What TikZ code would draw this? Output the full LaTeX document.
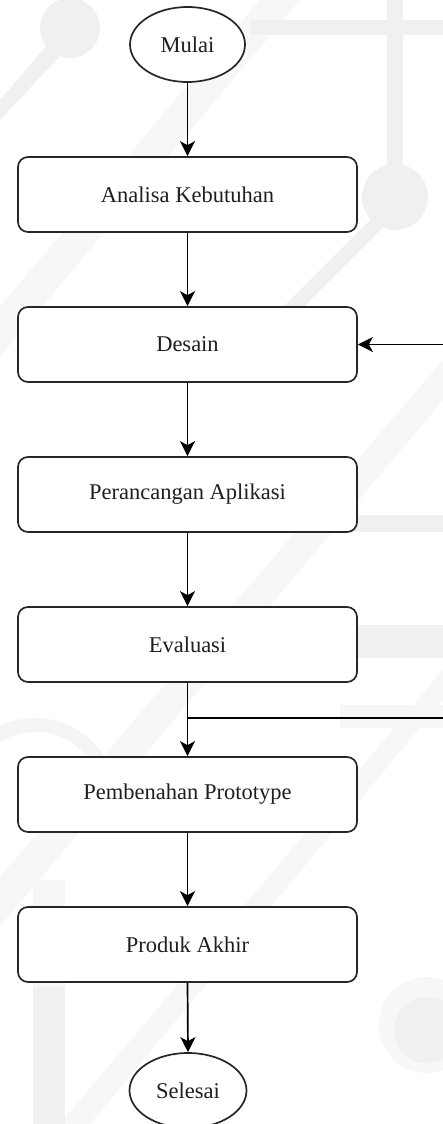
\documentclass[tikz,border=0pt]{standalone}
\usepackage{fontspec}
\setmainfont{Liberation Serif}
\usetikzlibrary{shapes.geometric,arrows.meta}
\begin{document}
\begin{tikzpicture}[x=1pt,y=-1pt,
  wm/.style={fill=black!6,draw=none},
  wmlight/.style={fill=black!3,draw=none},
  procbox/.style={draw=black!85,line width=1.7pt,fill=white,rounded corners=10pt,
    minimum width=339pt,minimum height=75pt,inner sep=0pt,
    font=\fontsize{22.5}{26}\selectfont,text=black!88},
  term/.style={draw=black!85,line width=1.7pt,fill=white,ellipse,
    minimum width=115pt,minimum height=75pt,inner sep=0pt,
    font=\fontsize{22.5}{26}\selectfont,text=black!88},
  flow/.style={draw=black,line width=1.7pt,-{Stealth[length=15pt,width=15pt,inset=4pt]}},
  plain/.style={draw=black,line width=1.7pt}]
\clip (0,0) rectangle (443,1124);
\fill[white] (0,0) rectangle (443,1124);
% faint watermark background
\fill[wmlight] (-20,330) -- (260,0) -- (300,0) -- (-20,380) -- cycle;
\fill[wmlight] (-20,900) -- (443,360) -- (443,400) -- (-20,950) -- cycle;
\fill[wmlight] (60,1124) -- (443,670) -- (443,700) -- (90,1124) -- cycle;
\fill[wm] (250,20) rectangle (443,35);
\fill[wm] (387,0) rectangle (403,197);
\fill[wm] (395,197) circle[radius=33];
\fill[wm] (390,200) -- (400,210) -- (290,320) -- (280,310) -- cycle;
\fill[wm] (70,28) circle[radius=30];
\fill[wm] (60,30) -- (75,40) -- (0,120) -- (0,100) -- cycle;
\fill[wm] (340,515) rectangle (443,532);
\fill[wm] (340,625) rectangle (443,658);
\fill[wmlight] (340,705) rectangle (443,728);
\fill[wmlight] (427,1025) circle[radius=48];
\fill[wm] (427,1030) circle[radius=33];
\fill[wm] (33,987) rectangle (65,1124);
\fill[wmlight] (33,880) rectangle (65,987);
\draw[black!4,line width=14pt] (110,800) arc[start angle=0,end angle=-200,radius=75];
% nodes
\node[term] (start) at (187.5,44.5) {Mulai};
\node[procbox] (analisa) at (187.5,194.5) {Analisa Kebutuhan};
\node[procbox] (desain) at (187.5,344.5) {Desain};
\node[procbox] (rancang) at (187.5,494.5) {Perancangan Aplikasi};
\node[procbox] (eval) at (187.5,644.5) {Evaluasi};
\node[procbox] (benah) at (187.5,794.5) {Pembenahan Prototype};
\node[procbox] (akhir) at (187.5,944.5) {Produk Akhir};
\node[term,minimum width=117pt] (end) at (188,1090.5) {Selesai};
\coordinate (jn) at (187.5,718);
\coordinate (loopA) at (470,718);
\coordinate (loopB) at (470,344.5);
% connectors
\draw[flow] (start) -- (analisa);
\draw[flow] (analisa) -- (desain);
\draw[flow] (desain) -- (rancang);
\draw[flow] (rancang) -- (eval);
\draw[flow] (eval) -- (benah);
\draw[flow] (benah) -- (akhir);
\draw[flow] (akhir.south) -- (end.north);
\draw[plain] (jn) -- (loopA) -- (loopB);
\draw[flow] (loopB) -- (desain.east);
\end{tikzpicture}
\end{document}
